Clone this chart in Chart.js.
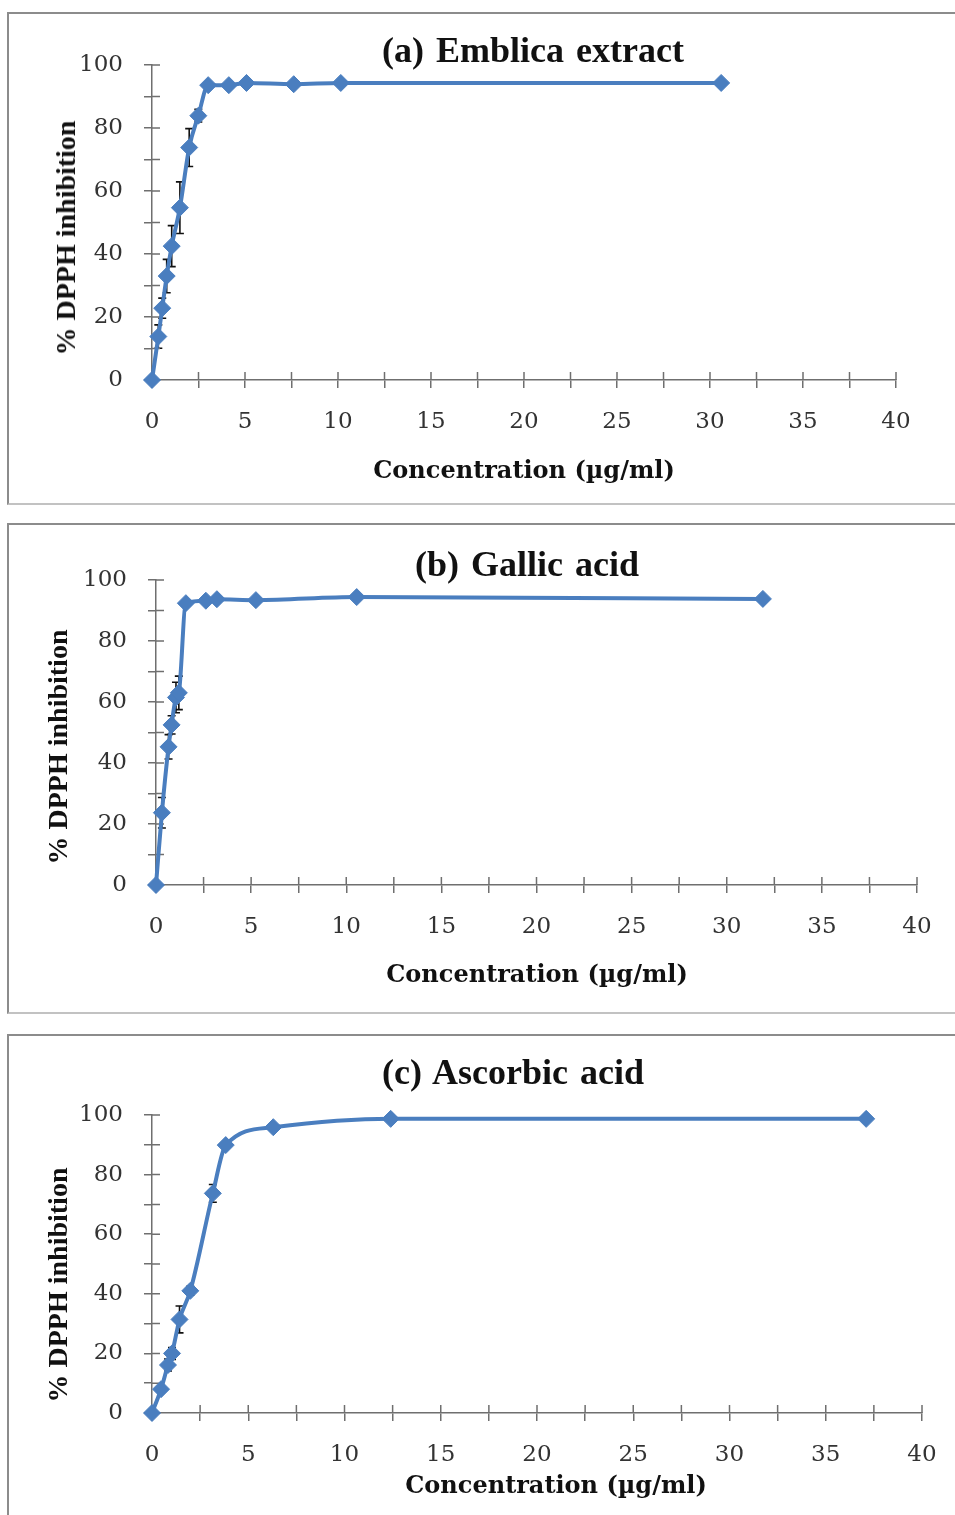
<!DOCTYPE html>
<html>
<head>
<meta charset="utf-8">
<script src="https://cdn.jsdelivr.net/npm/chart.js@4.4.1/dist/chart.umd.min.js"></script>
<style>
  html, body { margin: 0; padding: 0; background: #fff; }
  body { position: relative; width: 955px; height: 1515px; overflow: hidden; }
  .panel { position: absolute; left: 7px; width: 960px; box-sizing: border-box;
           border-top: 2px solid #8c8c8c; border-left: 2px solid #8c8c8c; border-bottom: 2px solid #c2c2c2; }
  canvas { position: absolute; left: 0; }
  .ttl, .xt, .yt { position: absolute; white-space: nowrap; color: #111; font-weight: bold; }
  .ttl { transform: translate(-50%, -50%); font-family: "Liberation Serif"; font-size: 36px; word-spacing: 3px; }
  .xt { transform: translate(-50%, -50%); font-family: "DejaVu Serif"; font-size: 24px; }
  .yt { transform: translate(-50%, -50%) rotate(-90deg); font-family: "Liberation Serif"; font-size: 28px; }
</style>
</head>
<body>
<div class="panel" style="top:12px;height:493px"></div>
<div class="panel" style="top:523px;height:491px"></div>
<div class="panel" style="top:1034px;height:500px"></div>

<canvas id="chartA" width="955" height="491" style="top:12px"></canvas>
<canvas id="chartB" width="955" height="489" style="top:523px"></canvas>
<canvas id="chartC" width="955" height="481" style="top:1034px"></canvas>

<div class="ttl" style="left:533px;top:50px">(a) Emblica extract</div>
<div class="xt" style="left:524px;top:469px">Concentration (µg/ml)</div>
<div class="yt" style="left:66px;top:238px">% DPPH inhibition</div>

<div class="ttl" style="left:527px;top:564px">(b) Gallic acid</div>
<div class="xt" style="left:537px;top:973px">Concentration (µg/ml)</div>
<div class="yt" style="left:58px;top:747px">% DPPH inhibition</div>

<div class="ttl" style="left:513px;top:1072px">(c) Ascorbic acid</div>
<div class="xt" style="left:556px;top:1484px">Concentration (µg/ml)</div>
<div class="yt" style="left:58px;top:1285px">% DPPH inhibition</div>

<script>
// tick labels
const xTickLabels = [0, 5, 10, 15, 20, 25, 30, 35, 40];
const yTickLabels = [0, 20, 40, 60, 80, 100];

// (a) Emblica extract
const concA  = [0, 0.34, 0.55, 0.79, 1.06, 1.5, 2.0, 2.49, 3.02, 4.13, 5.08, 7.62, 10.15, 30.6];
const inhibA = [0, 13.8, 22.8, 33.0, 42.5, 54.7, 73.8, 83.9, 93.6, 93.6, 94.3, 93.9, 94.3, 94.3];
const errA   = [0, 3.7, 3.2, 5.3, 6.5, 8.2, 6.0, 2.0, 0, 0, 0, 0, 0, 0];

// (b) Gallic acid
const concB  = [0, 0.31, 0.66, 0.82, 1.05, 1.2, 1.57, 2.62, 3.2, 5.25, 10.55, 31.9];
const inhibB = [0, 23.7, 45.3, 52.5, 61.5, 63.0, 92.4, 93.2, 93.7, 93.4, 94.4, 93.8];
const errB   = [0, 5.0, 4.0, 3.0, 5.0, 5.5, 0, 0, 0, 0, 0, 0];

// (c) Ascorbic acid
const concC  = [0, 0.47, 0.83, 1.04, 1.43, 1.99, 3.16, 3.83, 6.3, 12.4, 37.1];
const inhibC = [0, 8.0, 16.1, 20.0, 31.4, 41.0, 73.7, 89.9, 95.9, 98.7, 98.7];
const errC   = [0, 1.0, 2.0, 2.0, 4.5, 1.5, 3.0, 1.0, 0, 0, 0];

const blue = '#4a7ebf';
const axisCol = '#6f6f6f';
const tickFont = { family: 'DejaVu Serif', size: 23 };

// error bars, drawn under the line
const errorBars = {
  id: 'errorBars',
  beforeDatasetsDraw(chart, args, opts) {
    const errs = opts.errors;
    if (!errs) return;
    const { ctx, scales: { x, y } } = chart;
    const pts = chart.data.datasets[0].data;
    ctx.save();
    ctx.strokeStyle = '#111';
    ctx.lineWidth = 1.6;
    pts.forEach((p, i) => {
      const e = errs[i];
      if (!e) return;
      const px = x.getPixelForValue(p.x);
      const top = y.getPixelForValue(p.y + e);
      const bot = y.getPixelForValue(p.y - e);
      ctx.beginPath();
      ctx.moveTo(px, top); ctx.lineTo(px, bot);
      ctx.moveTo(px - 4, top); ctx.lineTo(px + 4, top);
      ctx.moveTo(px - 4, bot); ctx.lineTo(px + 4, bot);
      ctx.stroke();
    });
    ctx.restore();
  }
};

// tick marks cross the axis: draw the inner half
const innerTicks = {
  id: 'innerTicks',
  beforeDatasetsDraw(chart) {
    const { ctx, scales: { x, y } } = chart;
    ctx.save();
    ctx.strokeStyle = axisCol;
    ctx.lineWidth = 1.5;
    ctx.beginPath();
    x.ticks.forEach(t => {
      const px = x.getPixelForValue(t.value);
      ctx.moveTo(px, x.top); ctx.lineTo(px, x.top - 8);
    });
    y.ticks.forEach(t => {
      const py = y.getPixelForValue(t.value);
      ctx.moveTo(y.right, py); ctx.lineTo(y.right + 8, py);
    });
    ctx.stroke();
    ctx.restore();
  }
};

function makeChart(id, xs, ys, errs, a) {
  const yW = 100, xH = 80;
  new Chart(document.getElementById(id), {
    type: 'scatter',
    data: {
      datasets: [{
        data: xs.map((v, i) => ({ x: v, y: ys[i] })),
        showLine: true,
        borderColor: blue,
        backgroundColor: blue,
        borderWidth: 4,
        pointStyle: 'rectRot',
        pointRadius: 8.5,
        pointHoverRadius: 8.5,
        pointBorderWidth: 1,
        cubicInterpolationMode: 'monotone',
        clip: false
      }]
    },
    options: {
      responsive: false,
      animation: false,
      devicePixelRatio: 1,
      layout: { padding: { left: a.left - yW, right: 955 - a.right, top: a.top, bottom: a.h - a.bottom - xH } },
      plugins: {
        legend: { display: false },
        tooltip: { enabled: false },
        errorBars: { errors: errs }
      },
      scales: {
        x: {
          type: 'linear', min: 0, max: 40,
          ticks: {
            stepSize: 2.5, autoSkip: false, maxRotation: 0, padding: 20,
            font: tickFont, color: '#333',
            callback: v => xTickLabels.includes(v) ? v : ''
          },
          grid: { drawOnChartArea: false, tickLength: 8, color: axisCol, lineWidth: 1.5 },
          border: { color: axisCol, width: 1.5 },
          afterFit: s => { s.height = xH; s.paddingLeft = 0; s.paddingRight = 0; }
        },
        y: {
          type: 'linear', min: 0, max: 100,
          ticks: {
            stepSize: 10, autoSkip: false, padding: 21,
            font: tickFont, color: '#333',
            callback: v => yTickLabels.includes(v) ? v : ''
          },
          grid: { drawOnChartArea: false, tickLength: 8, color: axisCol, lineWidth: 1.5 },
          border: { color: axisCol, width: 1.5 },
          afterFit: s => { s.width = yW; s.paddingTop = 0; s.paddingBottom = 0; }
        }
      }
    },
    plugins: [errorBars, innerTicks]
  });
}

makeChart('chartA', concA, inhibA, errA, { left: 152, right: 896, top: 53, bottom: 368, h: 491 });
makeChart('chartB', concB, inhibB, errB, { left: 156, right: 917, top: 57, bottom: 362, h: 489 });
makeChart('chartC', concC, inhibC, errC, { left: 152, right: 922, top: 81, bottom: 379, h: 481 });
</script>
</body>
</html>
